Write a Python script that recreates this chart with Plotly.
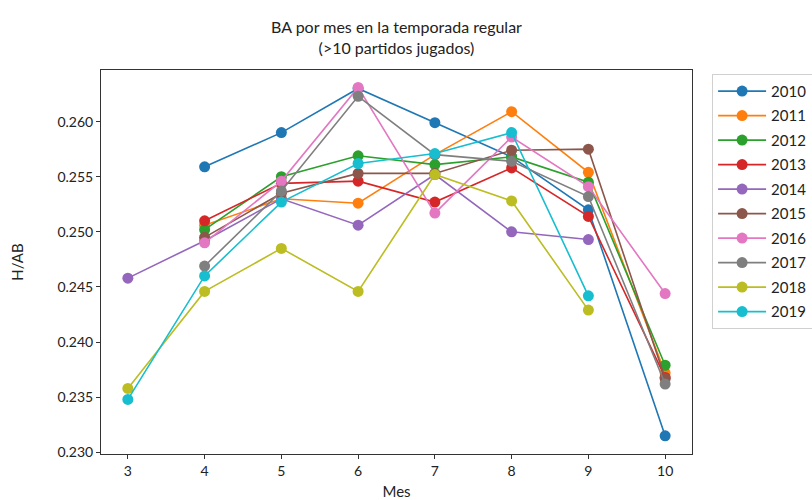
import plotly.graph_objects as go

# Batting average (H/AB) by month of the regular season, players with >10 games
months = [3, 4, 5, 6, 7, 8, 9, 10]

ba_2010 = [None, 0.2559, 0.2590, 0.2630, 0.2599, 0.2568, 0.2520, 0.2315]
ba_2011 = [None, 0.2506, 0.2530, 0.2526, 0.2570, 0.2609, 0.2554, 0.2372]
ba_2012 = [None, 0.2502, 0.2550, 0.2569, 0.2561, 0.2568, 0.2545, 0.2379]
ba_2013 = [None, 0.2510, 0.2544, 0.2546, 0.2527, 0.2558, 0.2514, 0.2368]
ba_2014 = [0.2458, 0.2492, 0.2530, 0.2506, 0.2552, 0.2500, 0.2493, None]
ba_2015 = [None, 0.2495, 0.2535, 0.2553, 0.2553, 0.2574, 0.2575, 0.2367]
ba_2016 = [None, 0.2490, 0.2546, 0.2631, 0.2517, 0.2586, 0.2541, 0.2444]
ba_2017 = [None, 0.2469, 0.2537, 0.2623, 0.2570, 0.2564, 0.2532, 0.2362]
ba_2018 = [0.2358, 0.2446, 0.2485, 0.2446, 0.2552, 0.2528, 0.2429, None]
ba_2019 = [0.2348, 0.2460, 0.2527, 0.2562, 0.2571, 0.2590, 0.2442, None]

seasons = ["2010", "2011", "2012", "2013", "2014", "2015", "2016", "2017", "2018", "2019"]
series = [ba_2010, ba_2011, ba_2012, ba_2013, ba_2014,
          ba_2015, ba_2016, ba_2017, ba_2018, ba_2019]
colors = ["#1f77b4", "#ff7f0e", "#2ca02c", "#d62728", "#9467bd",
          "#8c564b", "#e377c2", "#7f7f7f", "#bcbd22", "#17becf"]

y_ticks = [0.230, 0.235, 0.240, 0.245, 0.250, 0.255, 0.260]
x_ticks = months

FONT = "Lato, Open Sans, sans-serif"
TEXT = "#222222"

fig = go.Figure()
for name, vals, col in zip(seasons, series, colors):
    xs = [m for m, v in zip(months, vals) if v is not None]
    ys = [v for v in vals if v is not None]
    fig.add_trace(go.Scatter(
        x=xs, y=ys, name=name, legendgroup=name, mode="lines+markers",
        line=dict(color=col, width=1.6),
        marker=dict(color=col, size=11),
    ))

axis_common = dict(
    showline=True, linecolor="#333333", linewidth=1, mirror=True,
    ticks="outside", ticklen=4, tickcolor="#333333", showgrid=False,
    zeroline=False, automargin=False,
    tickfont=dict(family=FONT, size=14, color=TEXT),
)

fig.update_layout(
    width=812, height=500,
    margin=dict(l=101, r=120, t=70, b=46, autoexpand=False),
    paper_bgcolor="white", plot_bgcolor="white",
    title=dict(
        text="BA por mes en la temporada regular<br>(>10 partidos jugados)",
        x=(101 + 692) / 2 / 812, xref="container", xanchor="center",
        y=1 - 33 / 500, yref="container", yanchor="middle",
        font=dict(family=FONT, size=16, color=TEXT),
    ),
    xaxis=dict(axis_common, range=[2.65, 10.35], tickvals=x_ticks,
               title=dict(text="Mes", standoff=20,
                          font=dict(family=FONT, size=15, color=TEXT))),
    yaxis=dict(axis_common, range=[0.22985, 0.26468], tickvals=y_ticks,
               tickformat=".3f",
               title=dict(text="H/AB", standoff=30,
                          font=dict(family=FONT, size=15, color=TEXT))),
    legend=dict(
        x=1.034, xanchor="left", y=0.99, yanchor="top",
        bgcolor="white", bordercolor="#d0d0d0", borderwidth=1,
        font=dict(family=FONT, size=15, color=TEXT),
        tracegroupgap=2, itemwidth=48,
    ),
    showlegend=True,
)

fig.write_html("out.html")
